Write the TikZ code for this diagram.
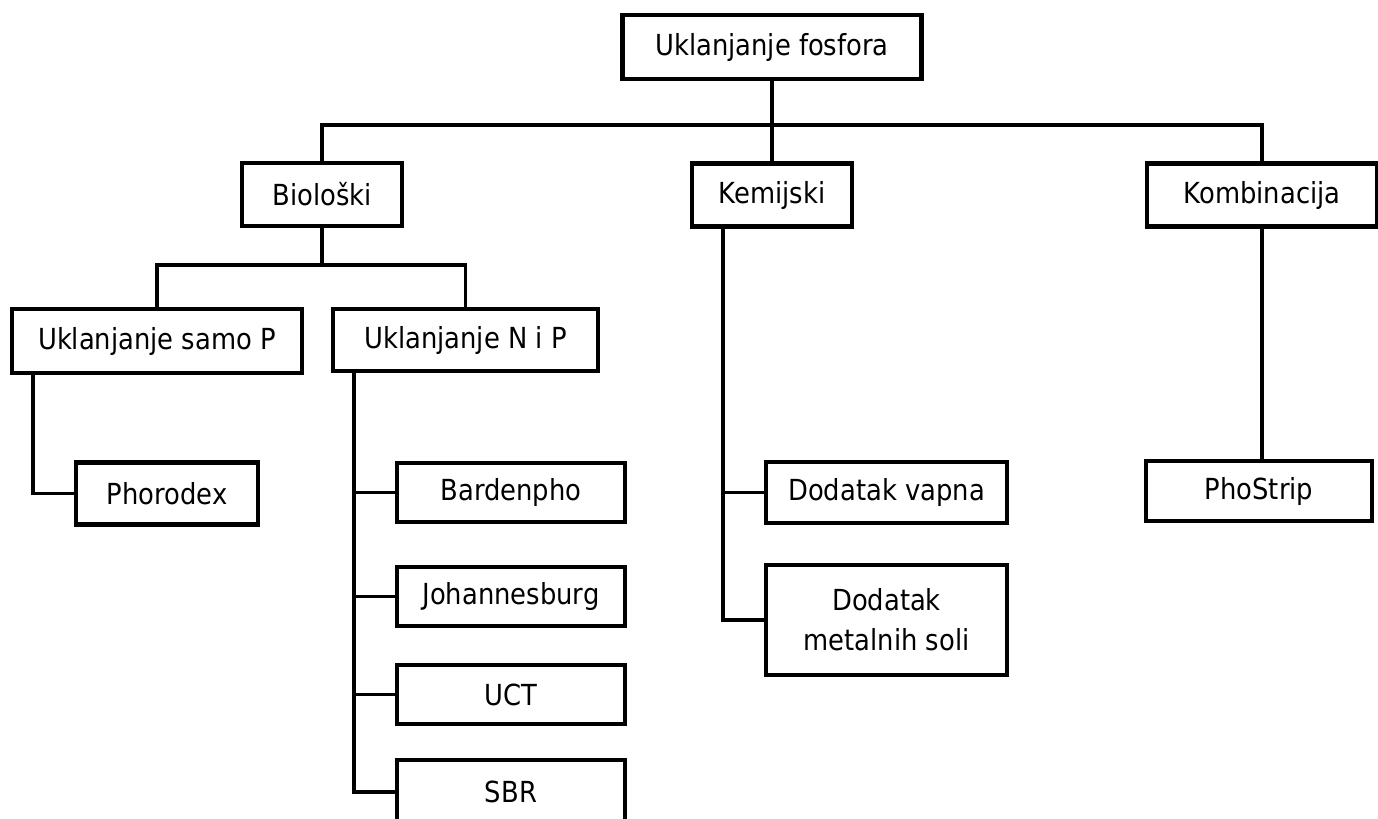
\documentclass[tikz,border=0pt]{standalone}
\usepackage{fontspec}
\setmainfont{DejaVu Sans}[FakeStretch=0.89]
\begin{document}
\begin{tikzpicture}[x=0.5pt,y=-0.5pt,line width=1.9pt]
	\tikzstyle{every node}+=[inner sep=0pt]
	\tikzstyle{tbox}=[draw=black,line width=2.1pt,font=\fontsize{14.5}{20}\selectfont,align=center]
	\useasboundingbox (0,0) rectangle (1378,819);
	% boxes
	\node [tbox,minimum width=149.5pt,minimum height=32pt] (root) at (772,47) {Uklanjanje fosfora};
	\node [tbox,minimum width=80pt,minimum height=31.5pt] (bio) at (322,194.5) {Biološki};
	\node [tbox,minimum width=80pt,minimum height=31.5pt] (kem) at (772,195) {Kemijski};
	\node [tbox,minimum width=115pt,minimum height=31.5pt] (komb) at (1262,195) {Kombinacija};
	\node [tbox,minimum width=145pt,minimum height=32pt] (samo) at (157,341) {Uklanjanje samo P};
	\node [tbox,minimum width=132.5pt,minimum height=31pt] (nip) at (465.5,340) {Uklanjanje N i P};
	\node [tbox,minimum width=91pt,minimum height=31pt] (phorodex) at (167,493.5) {Phorodex};
	\node [tbox,minimum width=114pt,minimum height=29.5pt] (bardenpho) at (511,492.5) {Bardenpho};
	\node [tbox,minimum width=114pt,minimum height=29.5pt] (johannesburg) at (511,596.5) {Johannesburg};
	\node [tbox,minimum width=114pt,minimum height=29.5pt] (uct) at (511,694.5) {UCT};
	\node [tbox,minimum width=114pt,minimum height=32pt] (sbr) at (511,792) {SBR};
	\node [tbox,minimum width=120.5pt,minimum height=30.5pt] (vapna) at (886.5,492.5) {Dodatak vapna};
	\node [tbox,minimum width=120.5pt,minimum height=55pt] (metal) at (886.5,620) {Dodatak\\metalnih soli};
	\node [tbox,minimum width=113pt,minimum height=30pt] (phostrip) at (1259,491) {PhoStrip};
	% connectors
	\coordinate (bus) at (0,125);
	\coordinate (bus2) at (0,265);
	\draw (root.south) -- (root.south |- bus);
	\draw (bio.north) |- (komb.north |- bus) -- (komb.north);
	\draw (kem.north) -- (kem.north |- bus);
	\draw (bio.south) -- (bio.south |- bus2);
	\draw (samo.north) |- (nip.north |- bus2) -- (nip.north);
	\draw (samo.south west) ++(23,0) |- (phorodex.west);
	\draw (nip.south west) ++(23,0) |- (sbr.west);
	\foreach \n in {bardenpho,johannesburg,uct}
		\draw (\n.west) -- ++(-41,0);
	\draw (kem.south west) ++(33,0) |- (metal.west);
	\draw (vapna.west) -- ++(-41,0);
	\draw (komb.south) -- (komb.south |- phostrip.north);
\end{tikzpicture}
\end{document}
